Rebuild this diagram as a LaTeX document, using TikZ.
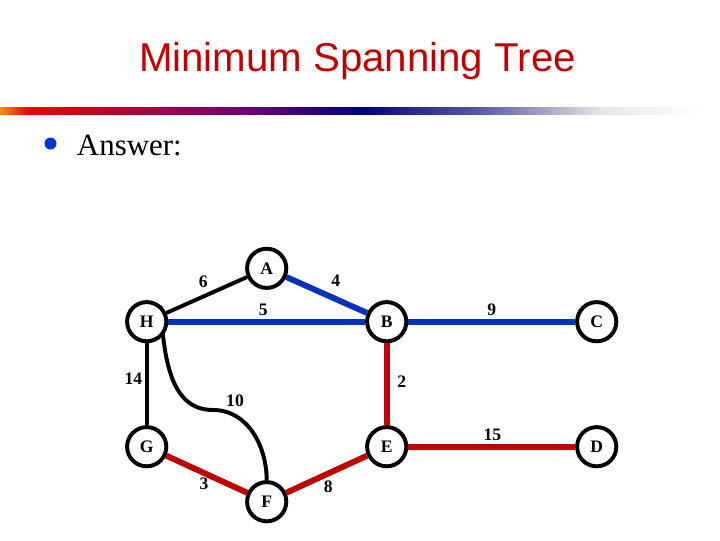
\documentclass[tikz,border=0pt]{standalone}
\usepackage{fontspec}
\setmainfont{Liberation Serif}
\newfontfamily\titlefont{Liberation Sans}
\usetikzlibrary{positioning}
\definecolor{titlered}{HTML}{C00000}
\definecolor{treeblue}{HTML}{0033BB}
\definecolor{treered}{HTML}{C00000}
\definecolor{bulletblue}{HTML}{0033CC}
\pgfdeclarehorizontalshading{rulebar}{100bp}{color(0bp)=(orange!90!yellow); color(25bp)=(orange!90!yellow);
  color(27bp)=(red!95!black); color(33bp)=(red!80!blue!90!black); color(41.7bp)=(violet!90!black);
  color(50bp)=(blue!50!black); color(58.3bp)=(blue!30!gray); color(66.7bp)=(gray!20); color(73.6bp)=(white); color(100bp)=(white)}

\begin{document}
\begin{tikzpicture}[
  x=0.025cm, y=-0.025cm,
  line width=2.8pt,
  vertex/.style={circle, draw=black, line width=2.8pt, fill=white, minimum size=0.98cm, inner sep=0pt, font=\fontsize{12.5}{14}\selectfont\bfseries},
  weight/.style={font=\fontsize{12.5}{14}\selectfont\bfseries, inner sep=0pt},
  other/.style={draw=black, line width=2.8pt},
  blueedge/.style={draw=treeblue, line width=4.2pt},
  rededge/.style={draw=treered, line width=4.2pt}
]
  \useasboundingbox (0,0) rectangle (720,540);
  \node[font=\titlefont\fontsize{28.6}{34}\selectfont, text=titlered, anchor=base] (title) at (357.5,71.7) {Minimum Spanning Tree};
  \shade[shading=rulebar] (0,107.5) rectangle (720,114.5);
  \fill[bulletblue] (50.5,143.5) circle (6);
  \node[font=\fontsize{22}{26}\selectfont, anchor=base west, inner sep=0pt] (answer) at (75,155) {Answer:};

  \coordinate (bend) at (213,410);
  \draw[other] (146.7,321.7) ++(-50:21) to[out=-85,in=180] (bend) to[out=0,in=90] (266.7,480.7);

  \node[vertex] (A) at (266.7,268.3) {A};
  \node[vertex] (H) at (146.7,321.7) {H};
  \node[vertex] (B) at (386.7,321.7) {B};
  \node[vertex] (C) at (596.7,321.7) {C};
  \node[vertex] (G) at (146.7,446.7) {G};
  \node[vertex] (E) at (386.7,446.7) {E};
  \node[vertex] (D) at (596.7,446.7) {D};
  \node[vertex] (F) at (266.7,501.7) {F};

  \draw[other] (H) -- (A);
  \draw[other] (H) -- (G);
  \draw[blueedge] (A) -- (B);
  \draw[blueedge] (H) -- (B);
  \draw[blueedge] (B) -- (C);
  \draw[rededge] (B) -- (E);
  \draw[rededge] (E) -- (D);
  \draw[rededge] (G) -- (F);
  \draw[rededge] (F) -- (E);

  \node[weight] (w6) at (203.3,281.7) {6};
  \node[weight] (w4) at (335.7,280.7) {4};
  \node[weight] (w5) at (263.3,310) {5};
  \node[weight] (w9) at (491.7,310) {9};
  \node[weight] (w14) at (133.3,378.3) {14};
  \node[weight] (w2) at (401.7,381.7) {2};
  \node[weight] (w10) at (235,400.7) {10};
  \node[weight] (w15) at (492.3,435) {15};
  \node[weight] (w3) at (204,484) {3};
  \node[weight] (w8) at (328.3,486.7) {8};
\end{tikzpicture}
\end{document}
